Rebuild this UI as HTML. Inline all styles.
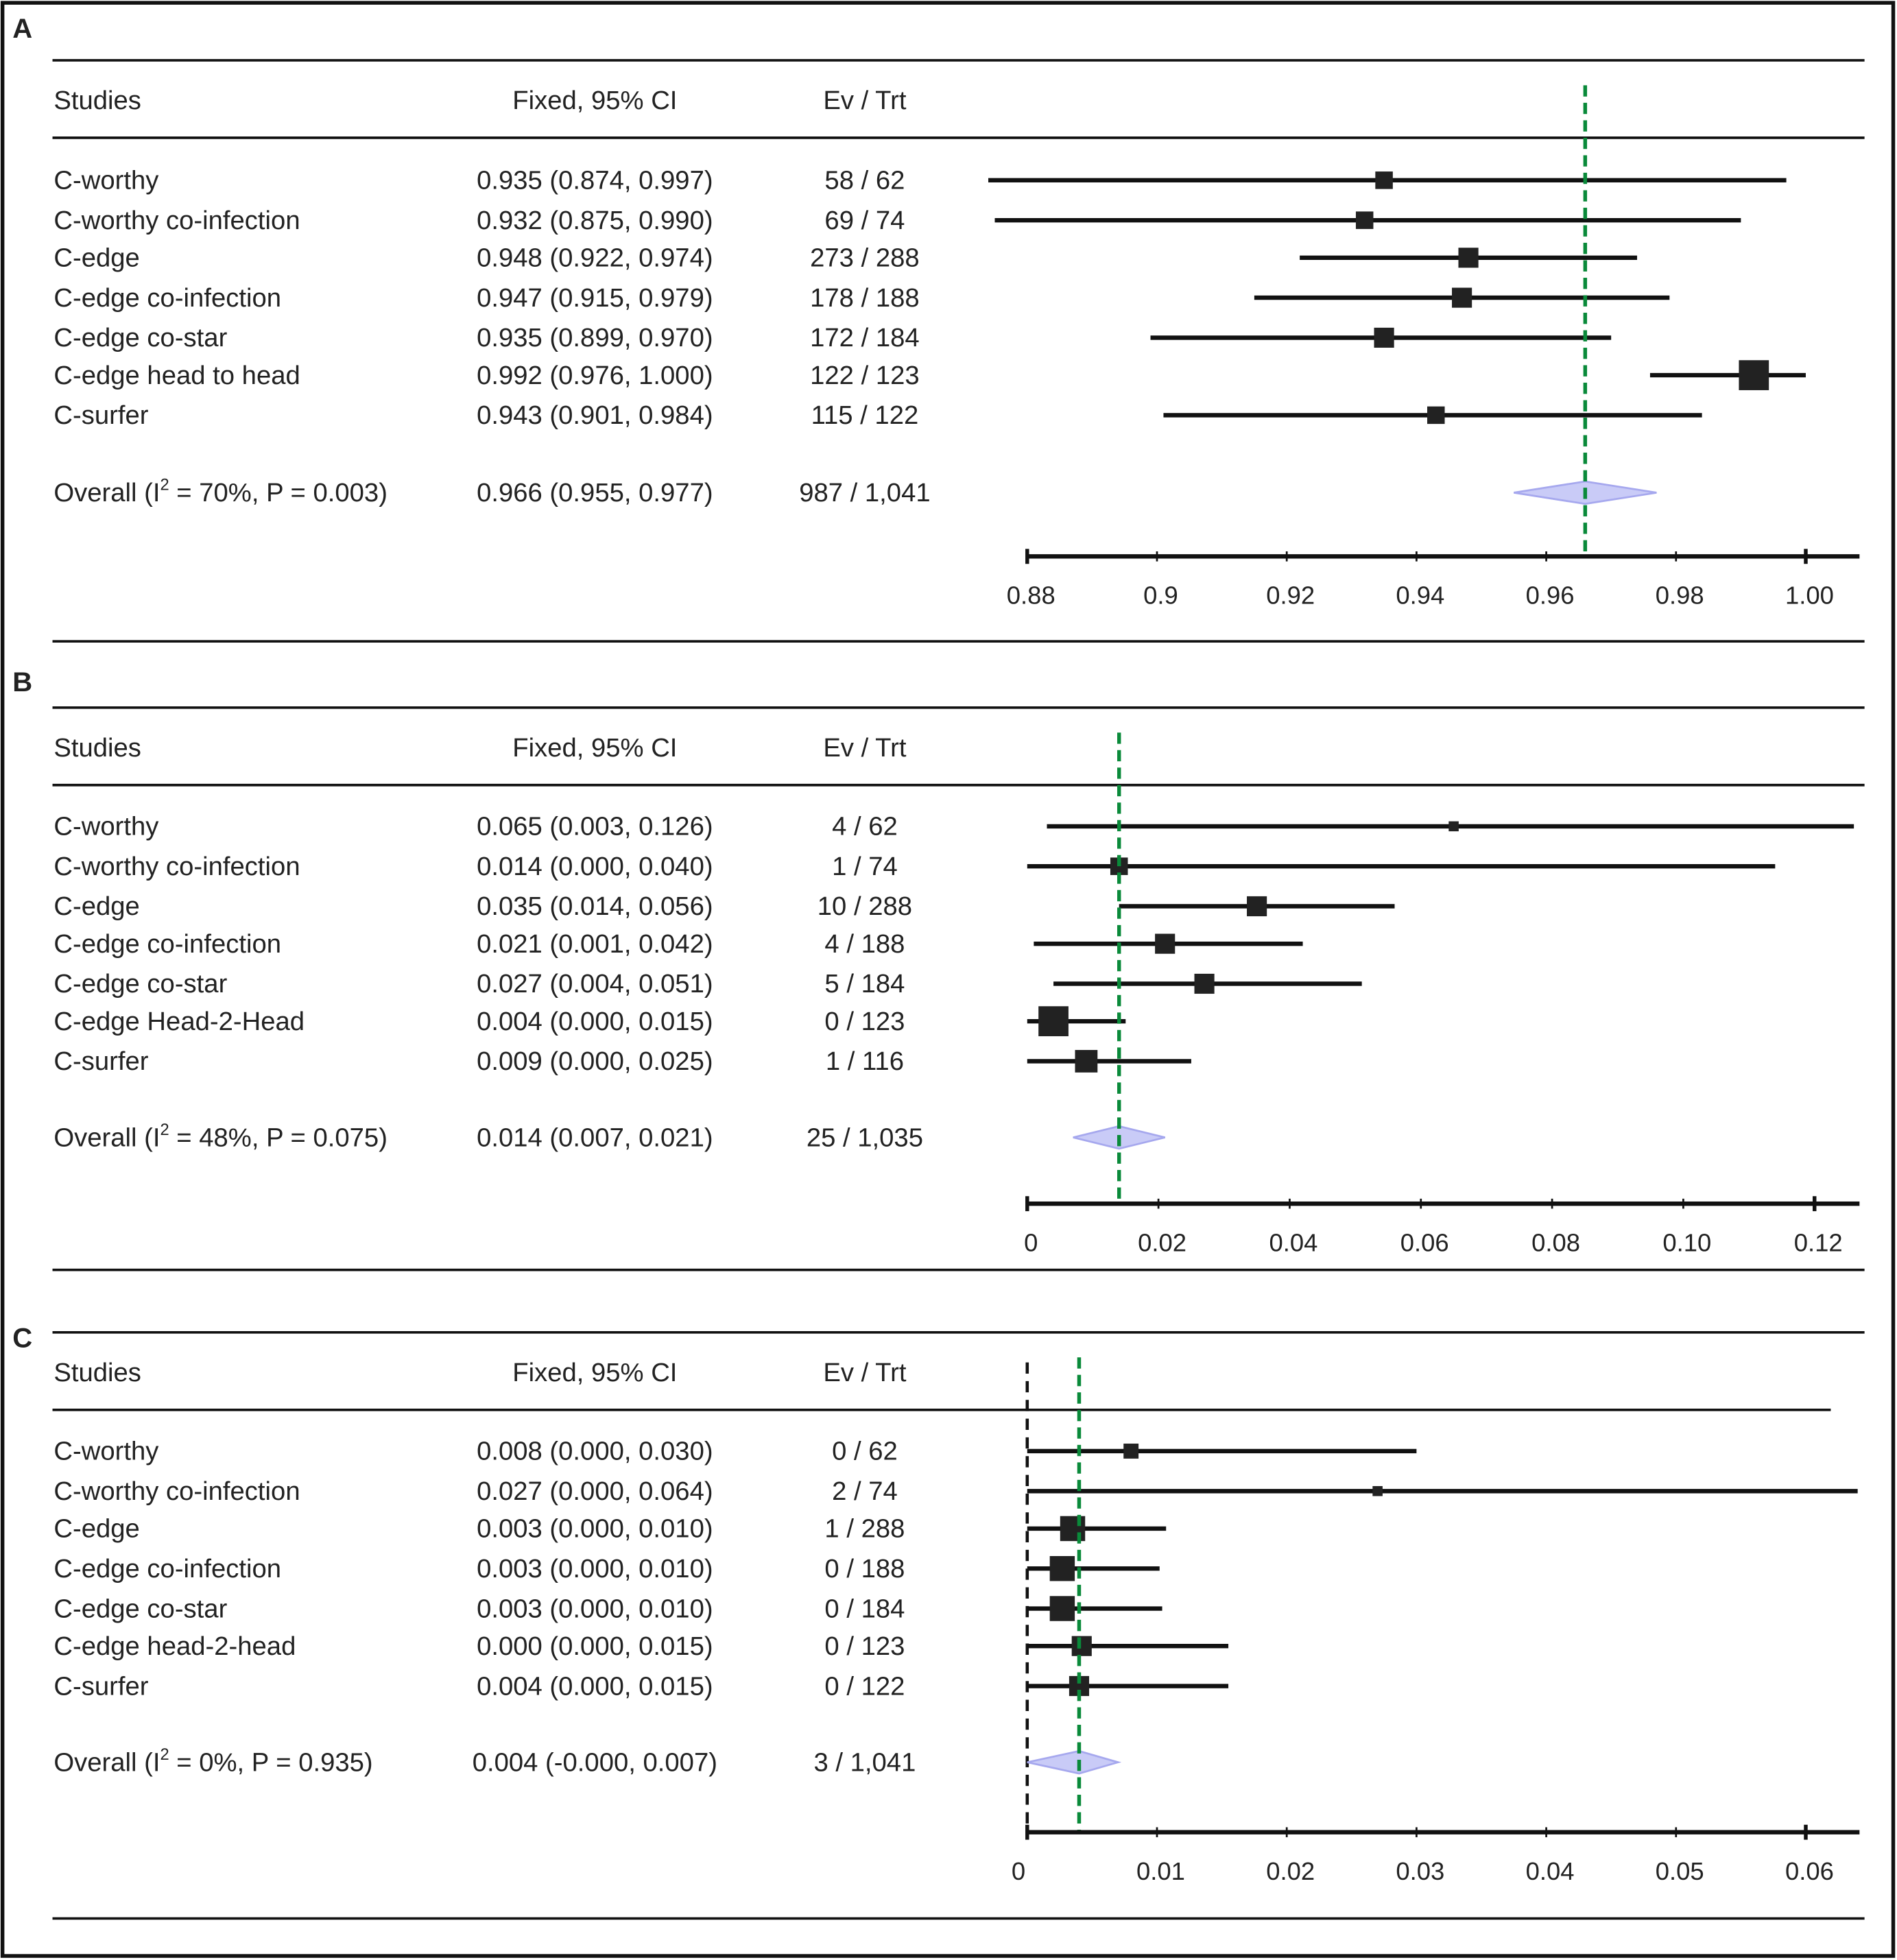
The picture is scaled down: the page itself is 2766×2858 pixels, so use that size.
<!DOCTYPE html>
<html><head><meta charset="utf-8">
<style>
html,body{margin:0;padding:0;background:#fff;}
svg{display:block;}
text{font-family:"Liberation Sans",sans-serif;fill:#222;}
</style></head>
<body>
<svg id="fig" width="2766" height="2858" viewBox="0 0 1518 1568" xmlns="http://www.w3.org/2000/svg">
<rect x="2" y="2" width="1513" height="1563" fill="#fff" stroke="#111" stroke-width="3"/>
</svg>
<script>
// Panel A data
const studiesA = ["C-worthy","C-worthy co-infection","C-edge","C-edge co-infection","C-edge co-star","C-edge head to head","C-surfer"];
const estA = [0.935,0.932,0.948,0.947,0.935,0.992,0.943];
const lowA = [0.874,0.875,0.922,0.915,0.899,0.976,0.901];
const highA = [0.997,0.990,0.974,0.979,0.970,1.000,0.984];
const ciTextA = ["0.935 (0.874, 0.997)","0.932 (0.875, 0.990)","0.948 (0.922, 0.974)","0.947 (0.915, 0.979)","0.935 (0.899, 0.970)","0.992 (0.976, 1.000)","0.943 (0.901, 0.984)"];
const evA = ["58 / 62","69 / 74","273 / 288","178 / 188","172 / 184","122 / 123","115 / 122"];
const sizeA = [7,7,8,8,8,12,7];
const overallA = [0.966,0.955,0.977];
const ticksA = [0.88,0.90,0.92,0.94,0.96,0.98,1.00];
const tickLabA = ["0.88","0.9","0.92","0.94","0.96","0.98","1.00"];

// Panel B data
const studiesB = ["C-worthy","C-worthy co-infection","C-edge","C-edge co-infection","C-edge co-star","C-edge Head-2-Head","C-surfer"];
const estB = [0.065,0.014,0.035,0.021,0.027,0.004,0.009];
const lowB = [0.003,0.000,0.014,0.001,0.004,0.000,0.000];
const highB = [0.126,0.114,0.056,0.042,0.051,0.015,0.025];
const ciTextB = ["0.065 (0.003, 0.126)","0.014 (0.000, 0.040)","0.035 (0.014, 0.056)","0.021 (0.001, 0.042)","0.027 (0.004, 0.051)","0.004 (0.000, 0.015)","0.009 (0.000, 0.025)"];
const evB = ["4 / 62","1 / 74","10 / 288","4 / 188","5 / 184","0 / 123","1 / 116"];
const sizeB = [4,7,8,8,8,12,9];
const overallB = [0.014,0.007,0.021];
const ticksB = [0,0.02,0.04,0.06,0.08,0.10,0.12];
const tickLabB = ["0","0.02","0.04","0.06","0.08","0.10","0.12"];

// Panel C data
const studiesC = ["C-worthy","C-worthy co-infection","C-edge","C-edge co-infection","C-edge co-star","C-edge head-2-head","C-surfer"];
const estC = [0.008,0.027,0.0035,0.0027,0.0027,0.0042,0.004];
const lowC = [0,0,0,0,0,0,0];
const highC = [0.030,0.064,0.0107,0.0102,0.0104,0.0155,0.0155];
const ciTextC = ["0.008 (0.000, 0.030)","0.027 (0.000, 0.064)","0.003 (0.000, 0.010)","0.003 (0.000, 0.010)","0.003 (0.000, 0.010)","0.000 (0.000, 0.015)","0.004 (0.000, 0.015)"];
const evC = ["0 / 62","2 / 74","1 / 288","0 / 188","0 / 184","0 / 123","0 / 122"];
const sizeC = [6,4,10,10,10,8,8];
const overallC = [0.004,0.000,0.007];
const ticksC = [0,0.01,0.02,0.03,0.04,0.05,0.06];
const tickLabC = ["0","0.01","0.02","0.03","0.04","0.05","0.06"];

const NS="http://www.w3.org/2000/svg";
const svg=document.getElementById('fig');
function mk(tag,attrs,parent){const e=document.createElementNS(NS,tag);for(const k in attrs)e.setAttribute(k,attrs[k]);(parent||svg).appendChild(e);return e;}
function txt(str,x,y,anchor,size,parent,weight){const t=mk('text',{x:x,y:y,'text-anchor':anchor||'start','font-size':size||21,'font-weight':weight||'normal'},parent);t.textContent=str;return t;}

function panel(cfg){
  const g=mk('g',{});
  
  
  const sx=v=>cfg.x0+(v-cfg.d0)*(cfg.x1-cfg.x0)/(cfg.d1-cfg.d0);
  const lab=txt(cfg.id,10,cfg.labelY,'start',22,g,'bold');
  
  
  const l1=mk('line',{x1:42,x2:1492,y1:cfg.topLine,y2:cfg.topLine,stroke:'#111','stroke-width':2},g);
  
  
  const l2=mk('line',{x1:42,x2:cfg.hdrEnd,y1:cfg.topLine+62,y2:cfg.topLine+62,stroke:'#111','stroke-width':2},g);
  
  
  const l3=mk('line',{x1:42,x2:1492,y1:cfg.bottomLine,y2:cfg.bottomLine,stroke:'#111','stroke-width':2},g);
  
  
  const hy=cfg.topLine+39;
  let h=txt('Studies',43,hy,'start',21,g);
  h=txt('Fixed, 95% CI',476,hy,'middle',21,g);
  h=txt('Ev / Trt',692,hy,'middle',21,g);
  if(cfg.nullLine){
    const nl=mk('line',{x1:sx(0),x2:sx(0),y1:cfg.topLine+24,y2:cfg.axisY,stroke:'#111','stroke-width':2.5,'stroke-dasharray':'9,6'},g);
    
    
  }
  cfg.studies.forEach((s,i)=>{
    const y=cfg.rowY[i];
    const rg=mk('g',{},g);
    
    
    txt(s,43,y+7,'start',21,rg);
    txt(cfg.ci[i],476,y+7,'middle',21,rg);
    txt(cfg.ev[i],692,y+7,'middle',21,rg);
    const wl=mk('line',{x1:sx(cfg.low[i]),x2:sx(cfg.high[i]),y1:y,y2:y,stroke:'#111','stroke-width':3.5},rg);
    
    
    const r=cfg.size[i];
    const b=mk('rect',{x:sx(cfg.est[i])-r,y:y-r,width:2*r,height:2*r,fill:'#222'},rg);
    
    
  });
  const oy=cfg.overallY;
  const og=mk('g',{},g);
  
  
  const ot=txt('',43,oy+7,'start',21,og);
  ot.innerHTML='Overall (I<tspan font-size="13" dy="-9">2</tspan><tspan dy="9"> = '+cfg.i2+')</tspan>';
  txt(cfg.overallCi,476,oy+7,'middle',21,og);
  txt(cfg.overallEv,692,oy+7,'middle',21,og);
  const [m,lo,hi]=cfg.overall;
  const d=mk('polygon',{points:`${sx(lo)},${oy} ${sx(m)},${oy-9} ${sx(hi)},${oy} ${sx(m)},${oy+9}`,fill:'#c9cbf7',stroke:'#a6a8ee','stroke-width':1.5},og);
  
  
  const ml=mk('line',{x1:sx(m),x2:sx(m),y1:cfg.topLine+20,y2:cfg.axisY,stroke:'#0a8a3a','stroke-width':3,'stroke-dasharray':'9,5'},g);
  
  
  const ag=mk('g',{},g);
  
  
  mk('line',{x1:cfg.x0,x2:1488,y1:cfg.axisY,y2:cfg.axisY,stroke:'#111','stroke-width':3.5},ag);
  cfg.ticks.forEach((t,i)=>{
    const x=sx(t);
    const end=(i===0||i===cfg.ticks.length-1);
    mk('line',{x1:x,x2:x,y1:cfg.axisY-(end?6:4),y2:cfg.axisY+(end?6:4),stroke:'#111','stroke-width':end?3:1.5},ag);
    const tl=txt(cfg.tickLab[i],x+(i===0&&cfg.id==='C'?-7:3),cfg.axisY+38,'middle',20,ag);
    
    
  });
}

const rowsA=[144,176,206,238,270,300,332];
panel({id:'A',labelY:30,topLine:48,hdrEnd:1492,bottomLine:513,rowY:rowsA,overallY:394,axisY:445,
  x0:822,x1:1445,d0:0.88,d1:1.00,studies:studiesA,est:estA,low:lowA,high:highA,ci:ciTextA,ev:evA,size:sizeA,
  overall:overallA,i2:'70%, P = 0.003',overallCi:'0.966 (0.955, 0.977)',overallEv:'987 / 1,041',ticks:ticksA,tickLab:tickLabA});
panel({id:'B',labelY:553,topLine:566,hdrEnd:1492,bottomLine:1016,rowY:[661,693,725,755,787,817,849],overallY:910,axisY:963,
  x0:822,x1:1452,d0:0,d1:0.12,studies:studiesB,est:estB,low:lowB,high:highB,ci:ciTextB,ev:evB,size:sizeB,
  overall:overallB,i2:'48%, P = 0.075',overallCi:'0.014 (0.007, 0.021)',overallEv:'25 / 1,035',ticks:ticksB,tickLab:tickLabB});
panel({id:'C',labelY:1078,topLine:1066,hdrEnd:1465,bottomLine:1535,rowY:[1161,1193,1223,1255,1287,1317,1349],overallY:1410,axisY:1466,
  x0:822,x1:1445,d0:0,d1:0.06,studies:studiesC,est:estC,low:lowC,high:highC,ci:ciTextC,ev:evC,size:sizeC,nullLine:true,
  overall:overallC,i2:'0%, P = 0.935',overallCi:'0.004 (-0.000, 0.007)',overallEv:'3 / 1,041',ticks:ticksC,tickLab:tickLabC});
</script>
</body></html>
